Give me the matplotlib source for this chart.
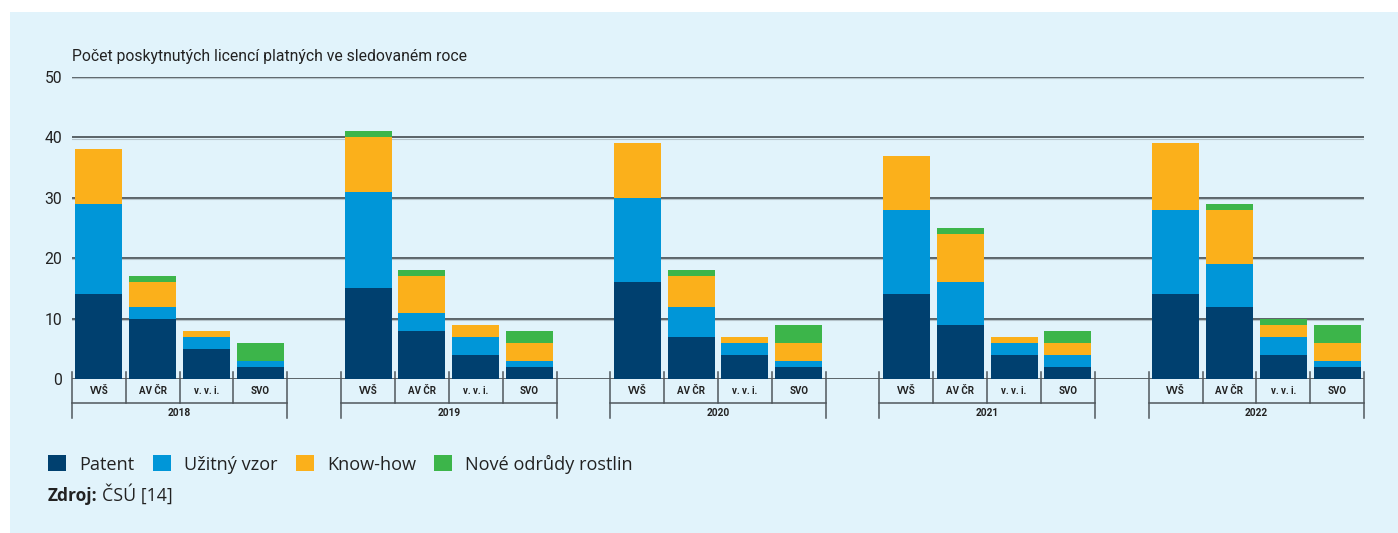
import matplotlib
matplotlib.use("Agg")
import matplotlib.pyplot as plt
from matplotlib.patches import Rectangle, Patch
from matplotlib.lines import Line2D
import numpy as np

# --- data -----------------------------------------------------------------
years = ["2018", "2019", "2020", "2021", "2022"]
sectors = ["VVŠ", "AV ČR", "v. v. i.", "SVO"]
series = ["Patent", "Užitný vzor", "Know-how", "Nové odrůdy rostlin"]

# values per year, ordered like `sectors`
patent = [[14, 10, 5, 2], [15, 8, 4, 2], [16, 7, 4, 2], [14, 9, 4, 2], [14, 12, 4, 2]]
uzitny_vzor = [[15, 2, 2, 1], [16, 3, 3, 1], [14, 5, 2, 1], [14, 7, 2, 2], [14, 7, 3, 1]]
know_how = [[9, 4, 1, 0], [9, 6, 2, 3], [9, 5, 1, 3], [9, 8, 1, 2], [11, 9, 2, 3]]
odrudy = [[0, 1, 0, 3], [1, 1, 0, 2], [0, 1, 0, 3], [0, 1, 0, 2], [0, 1, 1, 3]]

y_ticks = [0, 10, 20, 30, 40, 50]
title = "Počet poskytnutých licencí platných ve sledovaném roce"

colors = ["#00406f", "#0096d8", "#fbb01b", "#3cb54a"]
bg = "#e1f3fb"
ink = "#222222"
grid_c = "#4f575c"

W, H = 1398, 533
plt.rcParams["font.family"] = ["Roboto", "DejaVu Sans"]
wide = ["Open Sans", "DejaVu Sans"]

fig = plt.figure(figsize=(W / 100, H / 100), dpi=100)
fig.patch.set_facecolor("white")
fig.add_artist(Rectangle((10 / W, 0), 1 - 10 / W, (H - 12) / H,
                         transform=fig.transFigure, facecolor=bg,
                         edgecolor="none", zorder=0))

ax_h_px = 302
ax = fig.add_axes([72 / W, 154 / H, 1292 / W, ax_h_px / H])
ax.set_facecolor("none")
n_sec = len(sectors)
slot = n_sec + 1
ax.set_xlim(-0.5, len(years) * slot - 1.5)
ax.set_ylim(0, 50)

for s in ax.spines.values():
    s.set_visible(False)
ax.set_xticks([])
ax.set_yticks(y_ticks)
ax.set_yticklabels([str(t) for t in y_ticks], fontsize=11.3, color=ink)
ax.tick_params(axis="y", length=0, pad=7)

for t in y_ticks:
    ax.axhline(t, color=grid_c, lw=1.3, zorder=1)
    if t > 0:
        ax.axhline(t - 0.2, color="#b5c3ca", lw=0.8, zorder=1)

# --- stacked bars -----------------------------------------------------------
data = [np.array(patent), np.array(uzitny_vzor), np.array(know_how), np.array(odrudy)]
bar_w = 0.87
for g in range(len(years)):
    x = g * slot + np.arange(n_sec)
    bottom = np.zeros(n_sec)
    for k, arr in enumerate(data):
        ax.bar(x, arr[g], bottom=bottom, width=bar_w, color=colors[k],
               edgecolor="none", zorder=3)
        bottom = bottom + arr[g]

# --- category axis below ----------------------------------------------------
tr = ax.get_xaxis_transform()
def fy(px):
    return -px / ax_h_px

for g, yr in enumerate(years):
    x0 = g * slot - 0.5
    for k in range(n_sec + 1):
        outer = k in (0, n_sec)
        ax.add_line(Line2D([x0 + k, x0 + k], [fy(-7), fy(39 if outer else 24)],
                           transform=tr, color=grid_c, lw=1.1, clip_on=False))
    ax.add_line(Line2D([x0, x0 + n_sec], [fy(24), fy(24)], transform=tr,
                       color=grid_c, lw=1.1, clip_on=False))
    for i, sec in enumerate(sectors):
        ax.text(g * slot + i, fy(12), sec, transform=tr, ha="center",
                va="center", fontsize=7, fontweight="bold", color=ink)
    ax.text(x0 + n_sec / 2, fy(34), yr, transform=tr, ha="center",
            va="center", fontsize=7.3, fontweight="bold", color=ink)

# --- title, legend, source ----------------------------------------------------
fig.text(72 / W, 1 - 56 / H, title, fontsize=11.3, color=ink,
         ha="left", va="center")

handles = [Patch(facecolor=c, edgecolor="none", label=l) for c, l in zip(colors, series)]
fig.legend(handles=handles, loc="center left", bbox_to_anchor=(48 / W, 1 - 464 / H),
           ncol=4, frameon=False, prop={"family": wide, "size": 13.1},
           handlelength=1.0, handleheight=1.0, handletextpad=0.72,
           columnspacing=1.0, borderpad=0, borderaxespad=0, labelcolor=ink)

src_y = 1 - 501 / H
src = fig.text(48 / W, src_y, "Zdroj:", fontsize=12.5, fontweight="bold",
               family=wide, color=ink, ha="left", va="baseline")
fig.canvas.draw()
x_end = src.get_window_extent().x1
fig.text((x_end + 4) / W, src_y, "ČSÚ [14]", fontsize=12.8, family=wide,
         color=ink, ha="left", va="baseline")

fig.savefig("out.png", dpi=100, facecolor=fig.get_facecolor())
